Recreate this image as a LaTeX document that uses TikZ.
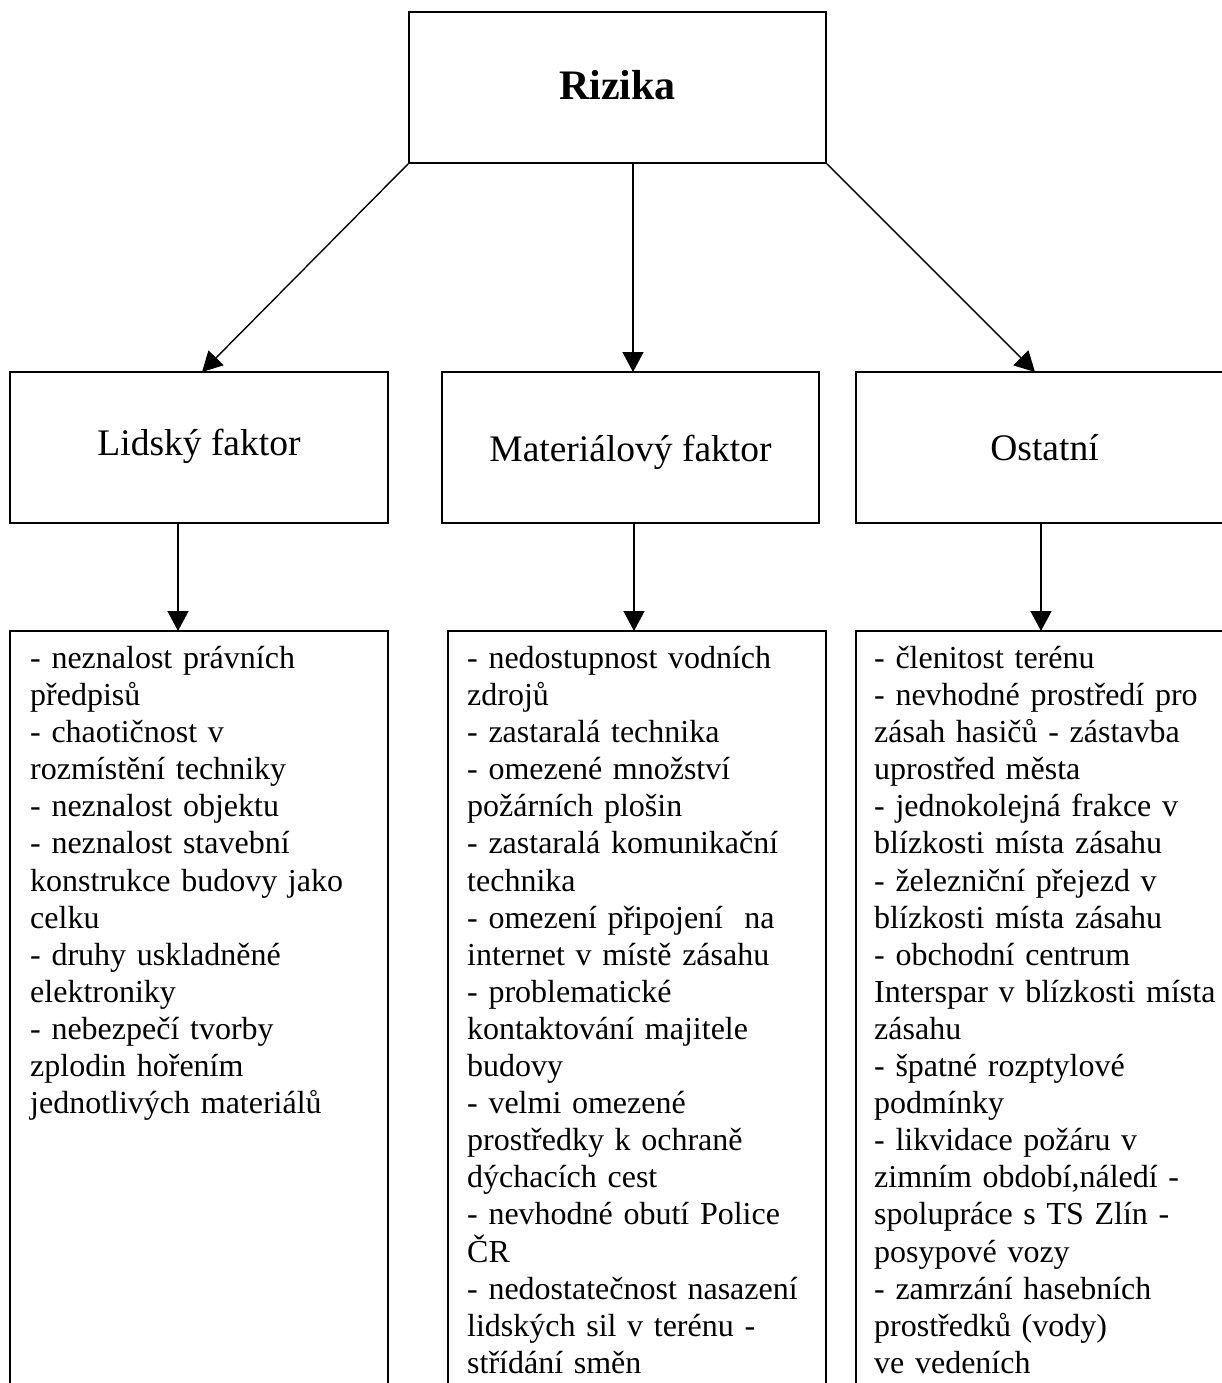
\documentclass[tikz,border=0pt]{standalone}
\usepackage{fontspec}
\setmainfont{Liberation Serif}
\usetikzlibrary{arrows.meta}
\begin{document}
\begin{tikzpicture}[x=1pt,y=-1pt,
  box/.style={draw, line width=1.6pt, rectangle, inner sep=0pt},
  head/.style={inner sep=0pt, anchor=base, font=\fontsize{37.5}{43}\selectfont},
  body/.style={inner sep=0pt, anchor=north west, align=left, text width=400pt,
    font=\fontsize{32}{37.1}\selectfont},
  arr/.style={line width=1.4pt, -{Triangle[length=20pt,width=21pt]}}]
\path[use as bounding box] (0,0) rectangle (1222,1383);
\clip (0,0) rectangle (1222,1383);
% boxes
\node[box, minimum width=417pt, minimum height=151pt] (r) at (617.5,87.5) {};
\node[box, minimum width=378pt, minimum height=151pt] (lf) at (199,447.5) {};
\node[box, minimum width=377pt, minimum height=151pt] (mf) at (630.5,447.5) {};
\node[box, minimum width=377pt, minimum height=151pt] (ot) at (1044.5,447.5) {};
\node[box, minimum width=378pt, minimum height=789pt] (lb) at (199,1025.5) {};
\node[box, minimum width=378pt, minimum height=789pt] (mb) at (637,1025.5) {};
\node[box, minimum width=378pt, minimum height=789pt] (ob) at (1045,1025.5) {};
% titles
\node[inner sep=0pt, anchor=base, font=\fontsize{42}{48}\selectfont\bfseries] (rt) at (617.5,100) {Rizika};
\node[head] (lft) at (199,455) {Lidský faktor};
\node[head] (mft) at (630.5,461) {Materiálový faktor};
\node[head] (ott) at (1044.5,460) {Ostatní};
% connector endpoints
\coordinate (a1) at (202,372);
\coordinate (a2s) at (633,163);
\coordinate (a2e) at (633,372);
\coordinate (a3) at (1035,372);
\coordinate (b1s) at (178,523);
\coordinate (b1e) at (178,631);
\coordinate (b2s) at (634,523);
\coordinate (b2e) at (634,631);
\coordinate (b3s) at (1041,523);
\coordinate (b3e) at (1041,631);
\draw[arr] (r.south west) -- (a1);
\draw[arr] (a2s) -- (a2e);
\draw[arr] (r.south east) -- (a3);
\draw[arr] (b1s) -- (b1e);
\draw[arr] (b2s) -- (b2e);
\draw[arr] (b3s) -- (b3e);
% texts
\node[body] (lbt) at (30,646) {- neznalost právních\\
předpisů\\
- chaotičnost v\\
rozmístění techniky\\
- neznalost objektu\\
- neznalost stavební\\
konstrukce budovy jako\\
celku\\
- druhy uskladněné\\
elektroniky\\
- nebezpečí tvorby\\
zplodin hořením\\
jednotlivých materiálů};
\node[body] (mbt) at (467,646) {- nedostupnost vodních\\
zdrojů\\
- zastaralá technika\\
- omezené množství\\
požárních plošin\\
- zastaralá komunikační\\
technika\\
- omezení připojení \ na\\
internet v místě zásahu\\
- problematické\\
kontaktování majitele\\
budovy\\
- velmi omezené\\
prostředky k ochraně\\
dýchacích cest\\
- nevhodné obutí Police\\
ČR\\
- nedostatečnost nasazení\\
lidských sil v terénu -\\
střídání směn};
\node[body] (obt) at (874,646) {- členitost terénu\\
- nevhodné prostředí pro\\
zásah hasičů - zástavba\\
uprostřed města\\
- jednokolejná frakce v\\
blízkosti místa zásahu\\
- železniční přejezd v\\
blízkosti místa zásahu\\
- obchodní centrum\\
Interspar v blízkosti místa\\
zásahu\\
- špatné rozptylové\\
podmínky\\
- likvidace požáru v\\
zimním období,náledí -\\
spolupráce s TS Zlín -\\
posypové vozy\\
- zamrzání hasebních\\
prostředků (vody)\\
ve vedeních};
\end{tikzpicture}
\end{document}
